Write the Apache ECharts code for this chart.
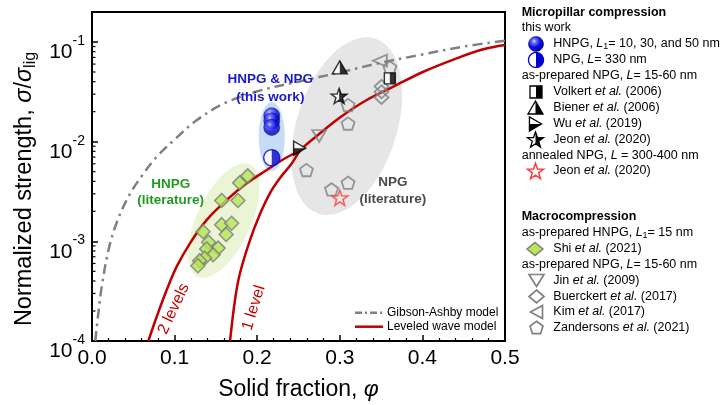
<!DOCTYPE html>
<html>
<head>
<meta charset="utf-8">
<script src="https://cdn.jsdelivr.net/npm/echarts@6.0.0/dist/echarts.min.js"></script>
<style>
html,body{margin:0;padding:0;background:#ffffff;}
#chart{width:721px;height:405px;}
</style>
</head>
<body>
<div id="chart"></div>
<script>
// ================= DATA =================
const xTickValues = [0, 0.1, 0.2, 0.3, 0.4, 0.5];
const yRange = [1e-4, 0.2];
const yMinorTickValues = [2e-4,3e-4,4e-4,5e-4,6e-4,7e-4,8e-4,9e-4,
                          2e-3,3e-3,4e-3,5e-3,6e-3,7e-3,8e-3,9e-3,
                          2e-2,3e-2,4e-2,5e-2,6e-2,7e-2,8e-2,9e-2];

// model curves [solid fraction, normalized strength]
const gibsonAshby = [[0.004,1.0e-4],[0.008,2.0e-4],[0.012,3.6e-4],[0.02,8.2e-4],[0.03,1.55e-3],
  [0.045,2.9e-3],[0.06,4.5e-3],[0.078,7.0e-3],[0.1,1.05e-2],[0.125,1.6e-2],[0.159,2.4e-2],
  [0.2,3.2e-2],[0.25,4.0e-2],[0.3,4.95e-2],[0.35,6.2e-2],[0.4,7.5e-2],[0.45,9.0e-2],[0.5,1.03e-1]];
const leveledWave2 = [[0.0682,1.0e-4],[0.0783,1.75e-4],[0.0904,3.25e-4],[0.1025,5.57e-4],[0.1186,9.55e-4],
  [0.1389,1.64e-3],[0.1631,2.60e-3],[0.1873,3.82e-3],[0.2115,5.19e-3],[0.2312,6.62e-3],[0.2527,8.25e-3]];
const leveledWave1 = [[0.1671,1.0e-4],[0.1731,2.58e-4],[0.1792,4.81e-4],[0.1913,1.03e-3],[0.2034,1.88e-3],
  [0.2155,3.05e-3],[0.2276,4.32e-3],[0.2409,5.90e-3],[0.2527,8.25e-3],[0.2720,1.14e-2],[0.3002,1.75e-2],
  [0.3326,2.62e-2],[0.3648,3.56e-2],[0.4011,5.03e-2],[0.4415,6.86e-2],[0.4737,8.45e-2],[0.5,9.33e-2]];

// micropillar compression
const hnpgThisWork = [[0.2176,0.0182],[0.2176,0.0162],[0.2176,0.0139]];
const npgThisWork = [[0.2176,0.0069]];
const volkert2006 = [[0.3606,0.0432]];
const biener2006 = [[0.300,0.0557]];
const wu2019 = [[0.2515,0.0086]];
const jeon2020 = [[0.2992,0.0288]];
const jeon2020Annealed = [[0.300,0.00274]];
// macrocompression
const shi2021 = [[0.1885,4.54e-3],[0.1788,3.86e-3],[0.157,2.57e-3],[0.1767,2.57e-3],[0.157,1.47e-3],
  [0.169,1.52e-3],[0.1624,1.17e-3],[0.1345,1.25e-3],[0.1412,9.8e-4],[0.1527,8.55e-4],[0.1388,8.4e-4],
  [0.1467,7.35e-4],[0.1364,6.8e-4],[0.1303,6.4e-4],[0.1282,5.7e-4]];
const jin2009 = [[0.275,0.0114]];
const buerckert2017 = [[0.3505,0.0359],[0.3505,0.0316],[0.3505,0.0278]];
const kim2017 = [[0.3485,0.065]];
const zandersons2021 = [[0.3606,0.0557],[0.310,0.0233],[0.310,0.0152],[0.2596,0.00519],[0.290,0.00332],[0.310,0.00387]];

// ================= STYLE / ANNOTATION CONFIG =================
const FONT = "'Liberation Sans', Arial, Helvetica, sans-serif";
const RED = '#c00000', GRAY = '#808080', BLUE = '#0000cc', GREEN_FILL = '#b5e655';
const REGIONS = [ // shaded ellipses: anchor in data space, radii in px
  {at:[0.1594,1.61e-3], rx:27, ry:62, rot:25, color:'#ebf5d6'},
  {at:[0.3085,0.0143], rx:50, ry:92, rot:18, color:'#e6e6e6'},
  {at:[0.2176,0.0112], rx:13, ry:34.5, rot:0, color:'#c6dcf4'}
];
const NOTES = [
  {at:[0.2158,0.0345], text:'HNPG & NPG\n(this work)', color:'#1a1ac8', size:13.5, weight:'bold', rot:0, lh:17.5},
  {at:[0.0952,3.13e-3], text:'HNPG\n(literature)', color:'#219a21', size:13.5, weight:'bold', rot:0, lh:16},
  {at:[0.3642,3.2e-3], text:'NPG\n(literature)', color:'#4a4a4a', size:13.5, weight:'bold', rot:0, lh:17},
  {at:[0.0988,2.1e-4], text:'2 levels', color:RED, size:16, weight:'normal', rot:65, lh:18},
  {at:[0.1958,2.15e-4], text:'1 level', color:RED, size:16, weight:'normal', rot:73, lh:18}
];

// ================= SYMBOL GEOMETRY =================
function regPts(n, r){ const a=[]; for(let i=0;i<n;i++){ const t=-Math.PI/2+2*Math.PI*i/n; a.push([r*Math.cos(t), r*Math.sin(t)]);} return a; }
function starPts(R, r){ const a=[]; for(let i=0;i<10;i++){ const t=-Math.PI/2+Math.PI*i/5; const q=(i%2)?r:R; a.push([q*Math.cos(t), q*Math.sin(t)]);} return a; }
function crossX(a,b){ const t=(0-a[0])/(b[0]-a[0]); return [0, a[1]+t*(b[1]-a[1])]; }
function clipRight(pts){ const out=[], n=pts.length; for(let i=0;i<n;i++){ const a=pts[(i+n-1)%n], b=pts[i]; const ia=a[0]>=-1e-9, ib=b[0]>=-1e-9; if(ib){ if(!ia) out.push(crossX(a,b)); out.push(b);} else if(ia) out.push(crossX(a,b)); } return out; }
function rotCW(pts){ return pts.map(p=>[-p[1], p[0]]); }
function bbox(pts){ let x0=1e9,y0=1e9,x1=-1e9,y1=-1e9; pts.forEach(p=>{x0=Math.min(x0,p[0]);y0=Math.min(y0,p[1]);x1=Math.max(x1,p[0]);y1=Math.max(y1,p[1]);}); return [x0,y0,x1,y1]; }
function pathOf(pts){ return 'M'+pts.map(p=>p[0].toFixed(2)+','+p[1].toFixed(2)).join('L')+'Z'; }
function anchors(pts){ const b=bbox(pts); return 'M'+b[0].toFixed(2)+','+b[1].toFixed(2)+'L'+b[0].toFixed(2)+','+b[1].toFixed(2)+'Z'+'M'+b[2].toFixed(2)+','+b[3].toFixed(2)+'L'+b[2].toFixed(2)+','+b[3].toFixed(2)+'Z'; }

const SHAPE = {
  circle: regPts(64,50), square:[[-50,-50],[50,-50],[50,50],[-50,50]],
  triUp: regPts(3,50), star: starPts(50,20), pent: regPts(5,50),
  diamond: [[0,-50],[50,0],[0,50],[-50,0]]
};
SHAPE.triRight = rotCW(SHAPE.triUp);
SHAPE.triDown = SHAPE.triUp.map(p=>[p[0],-p[1]]);
SHAPE.triLeft = SHAPE.triRight.map(p=>[-p[0],p[1]]);
const HALF = {
  circle: clipRight(SHAPE.circle), square: clipRight(SHAPE.square),
  triUp: clipRight(SHAPE.triUp), star: clipRight(SHAPE.star),
  triRight: rotCW(clipRight(SHAPE.triUp))
};
function fullSym(k){ return 'path://'+pathOf(SHAPE[k]); }
function halfSym(k){ return 'path://'+pathOf(HALF[k])+anchors(SHAPE[k]); }

// ================= SERIES =================
const series = [];
series.push({
  type:'custom', name:'regions', z:1, silent:true, clip:false,
  data: REGIONS.map(r=>r.at),
  renderItem:function(params, api){
    const e = REGIONS[params.dataIndex];
    const c = api.coord([api.value(0), api.value(1)]);
    const th = e.rot*Math.PI/180, pts=[];
    for(let i=0;i<90;i++){ const t=2*Math.PI*i/90; const x=e.rx*Math.cos(t), y=e.ry*Math.sin(t);
      pts.push([c[0]+x*Math.cos(th)-y*Math.sin(th), c[1]+x*Math.sin(th)+y*Math.cos(th)]); }
    return {type:'polygon', shape:{points:pts}, style:{fill:e.color}};
  }
});
const GA_DASH = [10,5,2.5,5];
series.push({type:'line', name:'Gibson-Ashby model', data:gibsonAshby, smooth:0.35, symbol:'none', showSymbol:false, z:2, silent:true,
  lineStyle:{color:GRAY, width:2.5, type:GA_DASH}, itemStyle:{color:GRAY}});
series.push({type:'line', name:'Leveled wave model (2 levels)', data:leveledWave2, smooth:0.35, symbol:'none', showSymbol:false, z:2, silent:true,
  lineStyle:{color:RED, width:2.5}, itemStyle:{color:RED}});
series.push({type:'line', name:'Leveled wave model (1 level)', data:leveledWave1, smooth:0.35, symbol:'none', showSymbol:false, z:2, silent:true,
  lineStyle:{color:RED, width:2.5}, itemStyle:{color:RED}});

function openScatter(name, data, symbol, size, rotate){
  return {type:'scatter', name, data, symbol, symbolSize:size, symbolRotate:rotate||0, symbolKeepAspect:true, z:3, silent:true,
    itemStyle:{color:'rgba(0,0,0,0)', borderColor:GRAY, borderWidth:1.8}};
}
series.push(openScatter('Zandersons et al. (2021)', zandersons2021, fullSym('pent'), 13));
series.push(openScatter('Kim et al. (2017)', kim2017, 'triangle', [12,14], 90));
series.push(openScatter('Buerckert et al. (2017)', buerckert2017, 'diamond', [14,13]));
series.push(openScatter('Jin et al. (2009)', jin2009, 'triangle', [14,12], 180));
series.push({type:'scatter', name:'Shi et al. (2021)', data:shi2021, symbol:'diamond', symbolSize:14, z:3, silent:true,
  itemStyle:{color:GREEN_FILL, borderColor:'#7a7a7a', borderWidth:1.5}});

function halfScatter(name, data, shape, size, color){
  return [
    {type:'scatter', name, data, symbol:fullSym(shape), symbolSize:size, symbolKeepAspect:true, z:4, silent:true,
      itemStyle:{color:'#ffffff', borderColor:color, borderWidth:1.4}},
    {type:'scatter', name, data, symbol:halfSym(shape), symbolSize:size, symbolKeepAspect:true, z:4, silent:true,
      itemStyle:{color:color, borderWidth:0}}
  ];
}
series.push(...halfScatter('Volkert et al. (2006)', volkert2006, 'square', 11, '#000'));
series.push(...halfScatter('Biener et al. (2006)', biener2006, 'triUp', 15, '#000'));
series.push(...halfScatter('Wu et al. (2019)', wu2019, 'triRight', 14, '#000'));
series.push(...halfScatter('Jeon et al. (2020)', jeon2020, 'star', 16, '#000'));
series.push({type:'scatter', name:'Jeon et al. (2020) annealed', data:jeon2020Annealed, symbol:fullSym('star'), symbolSize:16, symbolKeepAspect:true, z:4, silent:true,
  itemStyle:{color:'rgba(0,0,0,0)', borderColor:'#ff3b3b', borderWidth:1.5}});
const SPHERE_STOPS = [{offset:0,color:'#eeeeff'},{offset:0.18,color:'#7070ff'},{offset:0.55,color:'#0c0ce8'},{offset:1,color:'#00008a'}];
const SPHERE = {type:'radial', x:0.38, y:0.32, r:0.72, colorStops:SPHERE_STOPS};
series.push({type:'scatter', name:'HNPG this work', data:hnpgThisWork, symbol:'circle', symbolSize:16, z:4, silent:true,
  itemStyle:{color:SPHERE, borderColor:'#00006e', borderWidth:0.6}});
series.push(...halfScatter('NPG this work', npgThisWork, 'circle', 16, BLUE));

series.push({
  type:'custom', name:'notes', z:5, silent:true, clip:false,
  data: NOTES.map(n=>n.at),
  renderItem:function(params, api){
    const n = NOTES[params.dataIndex];
    const c = api.coord([api.value(0), api.value(1)]);
    return {type:'text', x:c[0], y:c[1], rotation:n.rot*Math.PI/180,
      style:{text:n.text, fill:n.color, fontSize:n.size, fontWeight:n.weight, fontFamily:FONT,
        align:'center', verticalAlign:'middle', textAlign:'center', textVerticalAlign:'middle', lineHeight:n.lh}};
  }
});
series.push({
  type:'custom', name:'yMinorTicks', z:6, silent:true, clip:false,
  data: yMinorTickValues.map(v=>[xTickValues[0], v]),
  renderItem:function(params, api){
    const p = api.coord([api.value(0), api.value(1)]);
    return {type:'line', shape:{x1:p[0], y1:p[1], x2:p[0]+3.5, y2:p[1]}, style:{stroke:'#000', lineWidth:1.2}};
  }
});

// ================= LEGENDS (graphic) =================
function fitT(pts, cx, cy, w, h){ const b=bbox(pts); const s=Math.min(w/(b[2]-b[0]), h/(b[3]-b[1])); const mx=(b[0]+b[2])/2, my=(b[1]+b[3])/2;
  return p=>[cx+(p[0]-mx)*s, cy+(p[1]-my)*s]; }
function fitS(pts, cx, cy, w, h){ const b=bbox(pts); const sx=w/(b[2]-b[0]), sy=h/(b[3]-b[1]); const mx=(b[0]+b[2])/2, my=(b[1]+b[3])/2;
  return p=>[cx+(p[0]-mx)*sx, cy+(p[1]-my)*sy]; }
function iconHalf(shape, cx, cy, w, h, color){ const T=fitT(SHAPE[shape], cx, cy, w, h);
  return [{type:'polygon', z:100, shape:{points:SHAPE[shape].map(T)}, style:{fill:'#fff', stroke:color, lineWidth:1.3}},
          {type:'polygon', z:101, shape:{points:HALF[shape].map(T)}, style:{fill:color}}]; }
function iconOpen(shape, cx, cy, w, h, stroke, fill, lw){ const T=fitS(SHAPE[shape], cx, cy, w, h);
  return [{type:'polygon', z:100, shape:{points:SHAPE[shape].map(T)}, style:{fill:fill||'rgba(0,0,0,0)', stroke, lineWidth:lw||1.6}}]; }
const LFS = 12.5;
const RICH = {i:{fontStyle:'italic', fontSize:LFS, fontFamily:FONT, lineHeight:15}, n:{fontSize:LFS, fontFamily:FONT, lineHeight:15},
  sub:{fontSize:9, fontFamily:FONT, lineHeight:9, verticalAlign:'bottom'}, b:{fontSize:LFS, fontWeight:'bold', fontFamily:FONT, lineHeight:15}};
function txt(x, y, s){ return {type:'text', x, y, z:100, style:{text:s, rich:RICH, fill:'#000', fontFamily:FONT, fontSize:LFS, align:'left', verticalAlign:'middle'}}; }
const HX = 521.7, TX = 553.3, IX = 536;
const graphics = [];
graphics.push(txt(HX, 12.5, '{b|Micropillar compression}'));
graphics.push(txt(HX, 28, '{n|this work}'));
graphics.push({type:'circle', z:100, shape:{cx:IX, cy:44, r:7.5}, style:{fill:new echarts.graphic.RadialGradient(0.38,0.32,0.72,SPHERE_STOPS), stroke:'#00006e', lineWidth:0.6}});
graphics.push(txt(TX, 44, '{n|HNPG, }{i|L}{sub|1}{n|= 10, 30, and 50 nm}'));
graphics.push(...iconHalf('circle', IX, 60, 15, 15, BLUE));
graphics.push(txt(TX, 60, '{n|NPG, }{i|L}{n|= 330 nm}'));
graphics.push(txt(HX, 76, '{n|as-prepared NPG, }{i|L}{n|= 15-60 nm}'));
graphics.push(...iconHalf('square', IX, 92, 12, 12, '#000'));
graphics.push(txt(TX, 92, '{n|Volkert }{i|et al.}{n| (2006)}'));
graphics.push(...iconHalf('triUp', IX-0.5, 107.5, 15, 15, '#000'));
graphics.push(txt(TX, 108, '{n|Biener }{i|et al.}{n| (2006)}'));
graphics.push(...iconHalf('triRight', IX-0.5, 124, 14, 14, '#000'));
graphics.push(txt(TX, 124, '{n|Wu }{i|et al.}{n| (2019)}'));
graphics.push(...iconHalf('star', IX-0.5, 139.5, 16, 16, '#000'));
graphics.push(txt(TX, 140, '{n|Jeon }{i|et al.}{n| (2020)}'));
graphics.push(txt(HX, 155.5, '{n|annealed NPG, }{i|L}{n| = 300-400 nm}'));
graphics.push(...iconOpen('star', IX-0.5, 171, 16, 15.2, '#ff3b3b', 'rgba(0,0,0,0)', 1.5));
graphics.push(txt(TX, 171, '{n|Jeon }{i|et al.}{n| (2020)}'));

graphics.push(txt(HX, 217, '{b|Macrocompression}'));
graphics.push(txt(HX, 233, '{n|as-prepared HNPG, }{i|L}{sub|1}{n|= 15 nm}'));
graphics.push(...iconOpen('diamond', 535, 249, 16, 13, '#7a7a7a', GREEN_FILL, 1.4));
graphics.push(txt(TX, 249, '{n|Shi }{i|et al.}{n| (2021)}'));
graphics.push(txt(HX, 265, '{n|as-prepared NPG, }{i|L}{n|= 15-60 nm}'));
graphics.push(...iconOpen('triDown', 536.5, 280.5, 15, 12, GRAY, 'rgba(0,0,0,0)', 1.7));
graphics.push(txt(TX, 281, '{n|Jin }{i|et al.}{n| (2009)}'));
graphics.push(...iconOpen('diamond', 536.5, 296.5, 15, 13, GRAY, 'rgba(0,0,0,0)', 1.7));
graphics.push(txt(TX, 296.5, '{n|Buerckert }{i|et al.}{n| (2017)}'));
graphics.push(...iconOpen('triLeft', 536.5, 312, 12, 13, GRAY, 'rgba(0,0,0,0)', 1.7));
graphics.push(txt(TX, 312, '{n|Kim }{i|et al.}{n| (2017)}'));
graphics.push(...iconOpen('pent', 536.5, 327.5, 13, 12.4, GRAY, 'rgba(0,0,0,0)', 1.7));
graphics.push(txt(TX, 327.5, '{n|Zandersons }{i|et al.}{n| (2021)}'));

// model legend inside the plot
graphics.push({type:'line', z:100, shape:{x1:355, y1:312.7, x2:383, y2:312.7}, style:{stroke:GRAY, lineWidth:2.5, lineDash:[7,3,2,3]}});
graphics.push({type:'text', x:387, y:312.7, z:100, style:{text:'Gibson-Ashby model', fill:'#000', fontFamily:FONT, fontSize:12, align:'left', verticalAlign:'middle'}});
graphics.push({type:'line', z:100, shape:{x1:355, y1:326.7, x2:383, y2:326.7}, style:{stroke:RED, lineWidth:2.5}});
graphics.push({type:'text', x:387, y:326.7, z:100, style:{text:'Leveled wave model', fill:'#000', fontFamily:FONT, fontSize:12, align:'left', verticalAlign:'middle'}});

// ================= OPTION =================
const option = {
  animation:false,
  backgroundColor:'#ffffff',
  textStyle:{fontFamily:FONT},
  grid:{left:92, top:12, width:413, height:329, show:true, borderColor:'#000', borderWidth:2, backgroundColor:'rgba(0,0,0,0)',
        containLabel:false, outerBoundsMode:'none'},
  xAxis:{
    type:'value', min:xTickValues[0], max:xTickValues[xTickValues.length-1], interval:0.1,
    name:'{n|Solid fraction, }{i|φ}', nameLocation:'middle', nameGap:35,
    nameTextStyle:{color:'#000', rich:{n:{fontSize:23, fontFamily:FONT, color:'#000', lineHeight:28}, i:{fontSize:23, fontStyle:'italic', fontFamily:FONT, color:'#000', lineHeight:28}}},
    axisLine:{show:true, onZero:false, lineStyle:{color:'#000', width:2}},
    axisTick:{show:true, inside:true, length:6, lineStyle:{color:'#000', width:1.5}},
    minorTick:{show:true, splitNumber:5, length:3, lineStyle:{color:'#000', width:1.2}},
    splitLine:{show:false}, minorSplitLine:{show:false},
    axisLabel:{fontSize:21, color:'#000', fontFamily:FONT, margin:7, formatter:v=>v.toFixed(1)}
  },
  yAxis:{
    type:'log', logBase:10, min:yRange[0], max:yRange[1],
    name:'{n|Normalized strength, }{i|σ}{n|/}{i|σ}{sub|lig}', nameLocation:'middle', nameGap:52, nameRotate:90,
    nameTextStyle:{color:'#000', padding:[0,25,0,0], rich:{
      n:{fontSize:23.5, fontFamily:FONT, color:'#000', lineHeight:28},
      i:{fontSize:23.5, fontStyle:'italic', fontFamily:FONT, color:'#000', lineHeight:28},
      sub:{fontSize:16, fontFamily:FONT, color:'#000', lineHeight:16, verticalAlign:'bottom'}}},
    axisLine:{show:true, onZero:false, lineStyle:{color:'#000', width:2}},
    axisTick:{show:true, inside:true, length:6, lineStyle:{color:'#000', width:1.5}},
    splitLine:{show:false},
    axisLabel:{showMaxLabel:false, margin:7, padding:[13,0,0,0], color:'#000',
      formatter:v=>'{b|10}{s|'+Math.round(Math.log10(v))+'}',
      rich:{b:{fontSize:21, fontFamily:FONT, color:'#000', lineHeight:29, verticalAlign:'bottom'},
            s:{fontSize:14, fontFamily:FONT, color:'#000', lineHeight:14, verticalAlign:'top'}}}
  },
  series:series,
  graphic:graphics
};
const chart = echarts.init(document.getElementById('chart'), null, {renderer:'canvas'});
chart.setOption(option);
</script>
</body>
</html>
